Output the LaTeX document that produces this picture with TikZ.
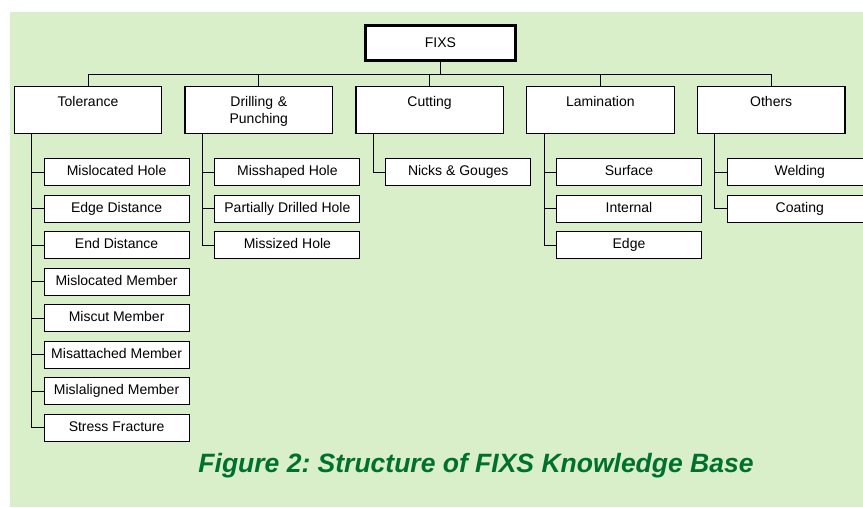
\documentclass[tikz,border=0pt]{standalone}
\usepackage{fontspec}
\setmainfont{Liberation Sans}
\usepackage{tikz}
\usetikzlibrary{positioning}
\definecolor{paper}{HTML}{D8EFC9}
\definecolor{capgreen}{HTML}{00702F}
\frenchspacing

\begin{document}
\begin{tikzpicture}[x=1pt,y=-1pt,
  node distance=22pt,
  root/.style={draw=black!55,line width=0.7pt,double=black,double distance=2.2pt,fill=white,minimum width=150pt,minimum height=35pt,font=\fontsize{14}{17}\selectfont},
  cat/.style={draw=black,line width=1.3pt,fill=white,text width=137.5pt,align=center,inner xsep=5pt,inner ysep=5pt,text height=15pt,text depth=22pt,font=\fontsize{14}{17}\selectfont},
  sub/.style={draw=black,line width=1pt,fill=white,minimum width=145pt,minimum height=27pt,inner sep=0pt,text height=10pt,text depth=3pt,font=\fontsize{14}{17}\selectfont},
  link/.style={draw=black,line width=0.9pt}]
  \useasboundingbox (0,0) rectangle (863,507);
  \fill[paper] (10,12) rectangle (863,507);
  % top of the tree
  \node[root] (root) at (440.5,43) {FIXS};
  \node[cat,anchor=north] (tol) at (88,86) {Tolerance};
  \node[cat,right=of tol] (dri) {Drilling \&\\Punching};
  \node[cat,right=of dri] (cut) {Cutting};
  \node[cat,right=of cut] (lam) {Lamination};
  \node[cat,right=of lam] (oth) {Others};
  \coordinate (bus) at (root.south |- 0,74);
  \draw[link] (root.south) -- (bus);
  \foreach \c in {tol,dri,cut,lam,oth} \draw[link] (bus) -| (\c.north);
  % Tolerance
  \node[sub,anchor=north west] (t1) at ([shift={(30pt,-24pt)}]tol.south west) {Mislocated Hole};
  \node[sub,below=8.5pt of t1] (t2) {Edge Distance};
  \node[sub,below=8.5pt of t2] (t3) {End Distance};
  \node[sub,below=8.5pt of t3] (t4) {Mislocated Member};
  \node[sub,below=8.5pt of t4] (t5) {Miscut Member};
  \node[sub,below=8.5pt of t5] (t6) {Misattached Member};
  \node[sub,below=8.5pt of t6] (t7) {Mislaligned Member};
  \node[sub,below=8.5pt of t7] (t8) {Stress Fracture};
  \coordinate (tolbar) at ([xshift=18pt]tol.south west);
  \foreach \k in {1,...,8} \draw[link] (tolbar) |- (t\k.west);
  % Drilling & Punching
  \node[sub,anchor=north west] (d1) at ([shift={(30pt,-24pt)}]dri.south west) {Misshaped Hole};
  \node[sub,below=8.5pt of d1] (d2) {Partially Drilled Hole};
  \node[sub,below=8.5pt of d2] (d3) {Missized Hole};
  \coordinate (dribar) at ([xshift=18pt]dri.south west);
  \foreach \k in {1,...,3} \draw[link] (dribar) |- (d\k.west);
  % Cutting
  \node[sub,anchor=north west] (c1) at ([shift={(30pt,-24pt)}]cut.south west) {Nicks \& Gouges};
  \coordinate (cutbar) at ([xshift=18pt]cut.south west);
  \draw[link] (cutbar) |- (c1.west);
  % Lamination
  \node[sub,anchor=north west] (l1) at ([shift={(30pt,-24pt)}]lam.south west) {Surface};
  \node[sub,below=8.5pt of l1] (l2) {Internal};
  \node[sub,below=8.5pt of l2] (l3) {Edge};
  \coordinate (lambar) at ([xshift=18pt]lam.south west);
  \foreach \k in {1,...,3} \draw[link] (lambar) |- (l\k.west);
  % Others
  \node[sub,anchor=north west] (o1) at ([shift={(30pt,-24pt)}]oth.south west) {Welding};
  \node[sub,below=8.5pt of o1] (o2) {Coating};
  \coordinate (othbar) at ([xshift=18pt]oth.south west);
  \foreach \k in {1,2} \draw[link] (othbar) |- (o\k.west);
  % caption
  \node[font=\fontsize{26.5}{30}\selectfont\bfseries\itshape,text=capgreen,anchor=base] (cap) at (476,472) {Figure 2: Structure of FIXS Knowledge Base};
\end{tikzpicture}
\end{document}
